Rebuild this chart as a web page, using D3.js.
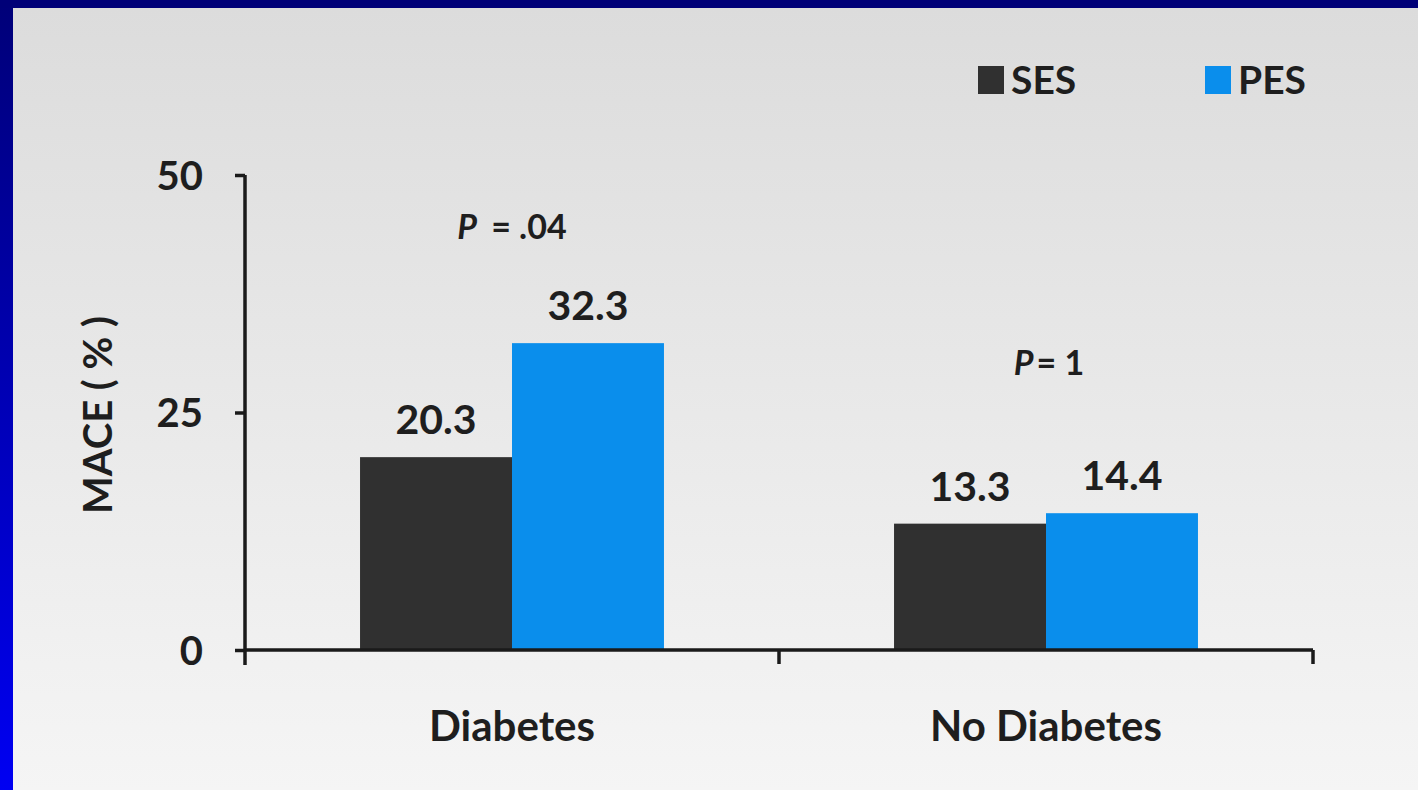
<!DOCTYPE html>
<html>
<head>
<meta charset="utf-8">
<script src="https://cdn.jsdelivr.net/npm/d3@7"></script>
<style>
  html, body { margin: 0; padding: 0; background: #00007a; }
  svg { display: block; }
  text { font-family: Lato, "Open Sans", sans-serif; font-weight: 700; fill: #1e1e1e; }
</style>
</head>
<body>
<svg id="chart" width="1418" height="790"></svg>
<script>
const categories = ["Diabetes", "No Diabetes"];
const seriesNames = ["SES", "PES"];
const sesValues = [20.3, 13.3];
const pesValues = [32.3, 14.4];
const valueLabels = [["20.3", "32.3"], ["13.3", "14.4"]];
const pLabels = ["= .04", "= 1"];
const yTicks = [0, 25, 50];
const yLabel = "MACE ( % )";

const colors = { SES: "#303030", PES: "#0a8eec" };

const svg = d3.select("#chart");
const W = 1418, H = 790;
const defs = svg.append("defs");

const leftGrad = defs.append("linearGradient").attr("id", "leftGrad")
  .attr("x1", 0).attr("y1", 0).attr("x2", 0).attr("y2", 1);
leftGrad.append("stop").attr("offset", "0%").attr("stop-color", "#000078");
leftGrad.append("stop").attr("offset", "100%").attr("stop-color", "#0000f2");

const panelGrad = defs.append("linearGradient").attr("id", "panelGrad")
  .attr("x1", 0).attr("y1", 0).attr("x2", 0).attr("y2", 1);
panelGrad.append("stop").attr("offset", "0%").attr("stop-color", "#dcdcdc");
panelGrad.append("stop").attr("offset", "100%").attr("stop-color", "#f5f5f5");

// frame
svg.append("rect").attr("x", 0).attr("y", 0).attr("width", W).attr("height", H).attr("fill", "url(#leftGrad)");
svg.append("rect").attr("x", 0).attr("y", 0).attr("width", W).attr("height", 8).attr("fill", "#000078");
svg.append("rect").attr("x", 13).attr("y", 8).attr("width", W - 13).attr("height", H - 8).attr("fill", "url(#panelGrad)");

// scales
const x0 = d3.scaleBand().domain(categories).range([245, 1313]).paddingInner(0).paddingOuter(0);
const x1 = d3.scaleBand().domain(seriesNames).range([0, x0.bandwidth()]).paddingInner(0).paddingOuter(0.757);
const y = d3.scaleLinear().domain([0, 50]).range([650, 175]);

const data = categories.map((c, i) => ({
  cat: c,
  vals: [
    { s: "SES", v: sesValues[i], label: valueLabels[i][0] },
    { s: "PES", v: pesValues[i], label: valueLabels[i][1] }
  ],
  p: pLabels[i]
}));

// bars
const groups = svg.append("g").selectAll("g").data(data).join("g")
  .attr("transform", d => `translate(${x0(d.cat)},0)`);

groups.selectAll("rect").data(d => d.vals).join("rect")
  .attr("x", d => x1(d.s))
  .attr("y", d => y(d.v))
  .attr("width", x1.bandwidth())
  .attr("height", d => y(0) - y(d.v))
  .attr("fill", d => colors[d.s]);

groups.selectAll("text.val").data(d => d.vals).join("text")
  .attr("class", "val")
  .attr("x", d => x1(d.s) + x1.bandwidth() / 2)
  .attr("y", d => y(d.v) - 23)
  .attr("text-anchor", "middle")
  .attr("font-size", 41)
  .text(d => d.label);

// p-values
const pText = groups.append("text")
  .attr("x", (d, i) => x0.bandwidth() / 2 + (i === 0 ? 0 : 3))
  .attr("y", (d, i) => i === 0 ? 239 : 375)
  .attr("text-anchor", "middle")
  .attr("font-size", 34);
pText.append("tspan").attr("font-style", "italic").text("P");
pText.append("tspan").attr("dx", (d, i) => i === 0 ? 14 : 3).text(d => d.p);

// y axis
const yAxis = d3.axisLeft(y).tickValues(yTicks).tickSize(10).tickSizeOuter(0).tickPadding(32);
const gy = svg.append("g").attr("transform", "translate(245,0)").call(yAxis);
gy.select(".domain").attr("stroke", "#1a1a1a").attr("stroke-width", 3.5)
  .attr("d", `M0,${y(50)}V${y(0) + 15}`);
gy.selectAll(".tick line").attr("stroke", "#1a1a1a").attr("stroke-width", 3.5);
gy.selectAll(".tick text").attr("font-size", 40).attr("font-family", "Lato, sans-serif")
  .attr("font-weight", 700).attr("fill", "#1e1e1e").attr("dy", "0.36em");

// x axis
const xr = x0.range();
const gx = svg.append("g");
gx.append("line").attr("x1", xr[0]).attr("x2", xr[1]).attr("y1", y(0)).attr("y2", y(0))
  .attr("stroke", "#1a1a1a").attr("stroke-width", 3.5);
const xTickPos = categories.slice(1).map(c => x0(c)).concat([xr[1]]);
gx.selectAll("line.t").data(xTickPos).join("line").attr("class", "t")
  .attr("x1", d => d).attr("x2", d => d).attr("y1", y(0)).attr("y2", y(0) + 14)
  .attr("stroke", "#1a1a1a").attr("stroke-width", 3.5);
gx.selectAll("text").data(categories).join("text")
  .attr("x", d => x0(d) + x0.bandwidth() / 2)
  .attr("y", 741)
  .attr("text-anchor", "middle")
  .attr("font-size", 42)
  .text(d => d);

// y label
svg.append("text")
  .attr("transform", `translate(112,415) rotate(-90)`)
  .attr("text-anchor", "middle")
  .attr("font-size", 40)
  .text(yLabel);

// legend
const legendX = [978, 1205];
const leg = svg.append("g").selectAll("g").data(seriesNames).join("g")
  .attr("transform", (d, i) => `translate(${legendX[i]},64)`);
leg.append("rect").attr("width", 26).attr("height", 28).attr("y", 2).attr("fill", d => colors[d]);
leg.append("text").attr("x", 33).attr("y", 30).attr("font-size", 39).text(d => d);
</script>
</body>
</html>
